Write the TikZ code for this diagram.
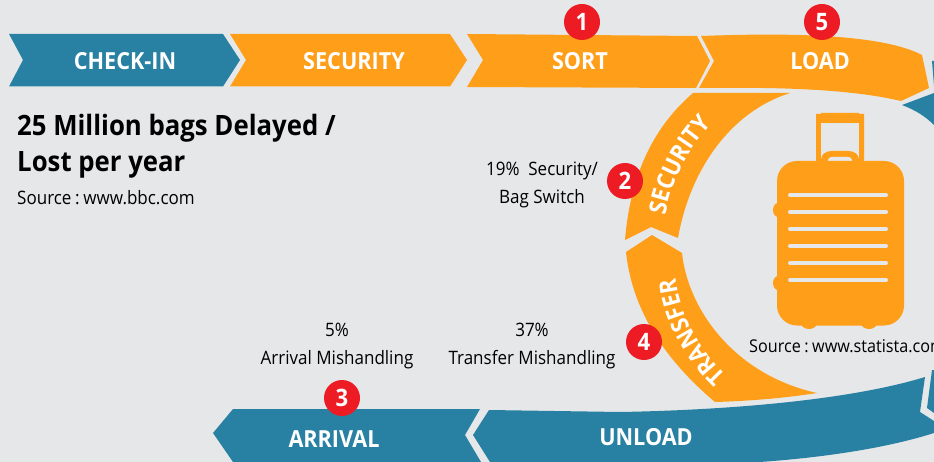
\documentclass[tikz,border=0pt]{standalone}
\usepackage{fontspec}
\setmainfont{Open Sans}[FakeStretch=0.92]
\usetikzlibrary{decorations.text}
\definecolor{bgc}{HTML}{E6E7E9}
\definecolor{teal1}{HTML}{2881A3}
\definecolor{orng}{HTML}{FF9E18}
\definecolor{redc}{HTML}{ED1C24}
\tikzset{
 teal shape/.style={fill=teal1,draw=none},
 orange shape/.style={fill=orng,draw=none},
 band label/.style={text=white,font=\fontsize{23.5}{23.5}\selectfont\bfseries,inner sep=0pt},
 badge/.style={circle,fill=redc,minimum size=36pt,inner sep=0pt,text=white,font=\fontsize{24}{24}\selectfont\bfseries},
 note/.style={text=black,font=\fontsize{18.5}{28}\selectfont,align=center,inner sep=0pt},
 stripe/.style={line width=4pt,line cap=round,draw=bgc},
}
\begin{document}
\begin{tikzpicture}[x=1pt,y=-1pt]
\fill[bgc] (0,0) rectangle (934,462);
\useasboundingbox (0,0) rectangle (934,462);
% top band
\fill[teal shape] (9,34) -- (223,34) -- (240,60) -- (223,86.5) -- (9,86.5) -- (23,60) -- cycle;
\fill[orange shape] (230,34) -- (450,34) -- (467,60) -- (450,86.5) -- (230,86.5) -- (246,60) -- cycle;
\fill[orange shape] (467,34) -- (697,36) -- (710,61) -- (696,88) -- (467,87) -- (483,60) -- cycle;
\fill[orange shape] (701,36) .. controls (780,33) and (880,33) .. (922,55) -- (929,88) -- (901,101) .. controls (850,89) and (780,87) .. (699,88) -- (714,61) -- cycle;
% right teal bits
\fill[teal shape] (902,105) -- (934,93) -- (934,125) .. controls (925,116) and (915,110) .. cycle;
\fill[teal shape] (932,61) -- (934,61) -- (934,86) -- cycle;
% arcs
\fill[orange shape] (693,93) -- (790,93) .. controls (730,112) and (690,170) .. (678,238) -- (651,227) -- (625,240) .. controls (630,180) and (650,130) .. cycle;
\fill[orange shape] (652,235) -- (682,253) .. controls (688,310) and (735,375) .. (817,393) .. controls (785,398) and (750,401) .. (715,402) .. controls (665,360) and (632,310) .. (626,252) -- cycle;
% bottom band
\fill[teal shape] (213,433) -- (233,409) -- (480,409) -- (465,435) -- (481,462) -- (233,462) -- cycle;
\fill[teal shape] (489,410) -- (620,412) .. controls (730,410) and (850,400) .. (925,377) -- (920,412) -- (934,421) -- (934,433) .. controls (890,447) and (830,457) .. (760,462) -- (490,462) -- (473,435) -- cycle;
\fill[teal shape] (932,370) -- (934,370) -- (934,413) -- (927,408) -- cycle;
% suitcase
\fill[orange shape] (816,114) -- (821,114) -- (821,113) -- (859,113) -- (859,114) -- (864,114) -- (864,165) -- (816,165) -- cycle;
\fill[bgc] (821,123) rectangle (859,161);
\fill[orange shape] (821,161) -- (821,160) .. controls (821,154) and (826,151) .. (832,151) -- (848,151) .. controls (854,151) and (859,154) .. (859,160) -- (859,161) -- cycle;
\fill[bgc] (828,161) -- (828,160) .. controls (828,158) and (830,157) .. (832,157) -- (848,157) .. controls (850,157) and (852,158) .. (852,160) -- (852,161) -- cycle;
\fill[orange shape] (778,210) ellipse (5 and 7);
\fill[orange shape] (778,283) ellipse (5 and 7);
\fill[orange shape] (809,323) ellipse (8 and 6);
\fill[orange shape] (869,323) ellipse (8 and 6);
\fill[orange shape,rounded corners=20pt] (777,161) rectangle (904,325.5);
\foreach \yy in {195,212,229,246,263,280} \draw[stripe] (790,\yy) -- (886,\yy);
% labels
\node[band label] (l1) at (125,61) {CHECK-IN};
\node[band label] (l2) at (354,61) {SECURITY};
\node[band label] (l3) at (580,61) {SORT};
\node[band label] (l4) at (820,61) {LOAD};
\node[band label] (l5) at (334,439) {ARRIVAL};
\node[band label] (l6) at (646,437) {UNLOAD};
\path[postaction={decorate,decoration={text along path,text align=center,text={|\fontsize{24}{24}\selectfont\bfseries\color{white}|SECURITY}}}] (665,218) .. controls (670,185) and (686,150) .. (714,122);
\path[postaction={decorate,decoration={text along path,text align=center,text={|\fontsize{24}{24}\selectfont\bfseries\color{white}|TRANSFER}}}] (730,378) .. controls (704,354) and (680,322) .. (675,274);
% badges
\node[badge] (b1) at (582,22) {1};
\node[badge] (b5) at (822,22) {5};
\node[badge] (b2) at (625,181) {2};
\node[badge] (b3) at (342,398) {3};
\node[badge] (b4) at (644,342) {4};
% texts
\node[anchor=base west,inner sep=0pt,font=\fontsize{28}{28}\selectfont\bfseries] (h1) at (17,136) {25 Million bags Delayed /};
\node[anchor=base west,inner sep=0pt,font=\fontsize{28}{28}\selectfont\bfseries] (h2) at (17,172) {Lost per year};
\node[note,anchor=west] (s1) at (17,198) {Source\hspace{.2em}:\hspace{.2em}www.bbc.com};
\node[note] (n1) at (542,184.5) {19\%\ \ Security/\\Bag Switch};
\node[note] (n2) at (337,346.5) {5\%\\Arrival Mishandling};
\node[note] (n3) at (532,346.5) {37\%\\Transfer Mishandling};
\node[note,anchor=west,font=\fontsize{17.6}{28}\selectfont] (s2) at (749,346) {Source\hspace{.2em}:\hspace{.2em}www.statista.com};
\end{tikzpicture}
\end{document}
